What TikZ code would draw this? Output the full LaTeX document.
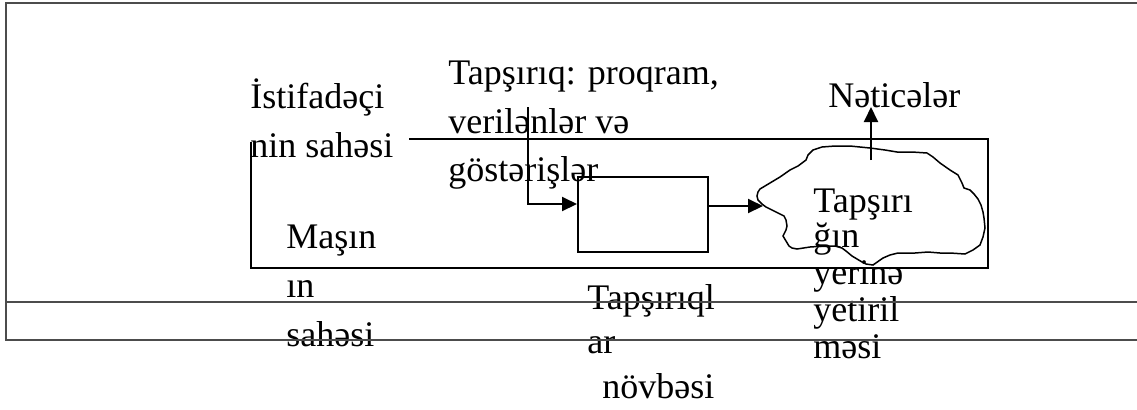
\documentclass[tikz,border=0pt]{standalone}
\usepackage{fontspec}
\setmainfont{Liberation Serif}
\usetikzlibrary{arrows.meta}
\begin{document}
\begin{tikzpicture}[x=0.5pt,y=-0.5pt,
  lbl/.style={anchor=base west, inner sep=0pt, font=\fontsize{18}{20}\selectfont},
  frameline/.style={draw=black!70, line width=0.65pt},
  boxline/.style={draw=black, line width=1pt},
  arr/.style={draw=black, line width=1pt, -{Triangle[length=7.5pt,width=7pt]}},
  blob/.style={draw=black, line width=0.75pt}]
\useasboundingbox (0,0) rectangle (1137,409);
% texts
\node[lbl] (user1) at (250,108) {İstifadəçi};
\node[lbl] (user2) at (250,157) {nin sahəsi};
\node[lbl] (task1) at (448,84) {Tapşırıq: proqram,};
\node[lbl] (task2) at (448,133) {verilənlər və};
\node[lbl] (task3) at (448,181) {göstərişlər};
\node[lbl] (res) at (828,107) {Nəticələr};
\node[lbl] (run1) at (813,212) {Tapşırı};
\node[lbl] (run2) at (813,247) {ğın};
\node[lbl] (run3) at (813,284) {yerinə};
\node[lbl] (run4) at (813,321) {yetiril};
\node[lbl] (run5) at (813,358) {məsi};
\node[lbl] (m1) at (286,248) {Maşın};
\node[lbl] (m2) at (286,297) {ın};
\node[lbl] (m3) at (286,346) {sahəsi};
\node[lbl] (q1) at (587,309) {Tapşırıql};
\node[lbl] (q2) at (587,353) {ar};
\node[lbl] (q3) at (602,398) {növbəsi};
% outer frame lines
\draw[frameline] (1137,3) -- (6,3) -- (6,340) -- (1137,340);
\draw[frameline] (6,302) -- (1137,302);
% machine area rectangle
\draw[boxline] (409,139) -- (988,139) -- (988,268) -- (251,268) -- (251,142);
% queue box
\node (queue) [boxline, minimum width=65pt, minimum height=37.5pt, inner sep=0pt, anchor=north west] at (577,176) {};
% cloud
\draw[blob] (813,150) -- (822,147) -- (835,146) -- (850,146) -- (870,148) -- (885,150) -- (897,152) -- (912,152) -- (927,153)
 -- (933,157) -- (940,163) -- (950,170) -- (958,175) -- (962,183) -- (964,188) -- (970,190) -- (974,194) -- (978,199) -- (981,205)
 -- (983,212) -- (984,218) -- (985,228) -- (983,237) -- (980,245) -- (973,250) -- (965,254)
 -- (950,253) -- (940,253) -- (928,252) -- (915,253) -- (898,253) -- (890,255) -- (883,258) -- (873,265) -- (866,264) -- (862,262) -- (857,259) -- (852,256) -- (846,251) -- (842,248)
 -- (835,246) -- (825,246) -- (810,247) -- (797,249) -- (792,248) -- (789,246) -- (786,241) -- (783,236) -- (786,230) -- (787,226) -- (786,220) -- (784,216) -- (778,213) -- (772,210)
 -- (766,207) -- (762,204) -- (758,200) -- (757,196) -- (758,192) -- (760,189) -- (765,186) -- (770,183) -- (780,177) -- (790,170) -- (798,166) -- (806,160) -- (808,155) -- cycle;
\coordinate (cloudin) at (763,206);
\coordinate (cloudtop) at (871,160);
\coordinate (src) at (528,107);
\coordinate (resfoot) at (871,107);
% connectors
\draw[arr] (src) |- ([yshift=5.25pt]queue.west);
\draw[arr] (queue.east |- cloudin) -- (cloudin);
\draw[arr] (cloudtop) -- (resfoot);
\end{tikzpicture}
\end{document}
